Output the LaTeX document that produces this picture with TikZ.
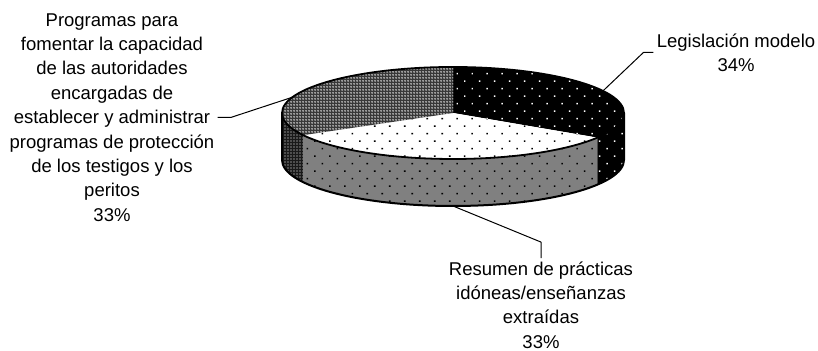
\documentclass[tikz,border=0pt]{standalone}
\usepackage{fontspec}
\setmainfont{Liberation Sans}
\usetikzlibrary{patterns.meta}
\begin{document}
\begin{tikzpicture}[x=.5pt,y=.5pt,line join=round,
	lbl/.style={align=center,inner sep=1.5pt,font=\fontsize{9.25}{12.2}\selectfont},
	legisfill/.style={fill=black,postaction={pattern={Dots[distance=5.3pt,radius=.5pt,angle=45]},pattern color=white}},
	resutop/.style={fill=white,postaction={pattern={Dots[distance=5.3pt,radius=.55pt,angle=45]},pattern color=black}},
	resuside/.style={fill=black!50,postaction={pattern={Dots[distance=5.3pt,radius=.55pt,angle=45]},pattern color=black}},
	progtop/.style={fill=black!78,postaction={pattern={Dots[distance=1.5pt,radius=.38pt]},pattern color=white}},
	progside/.style={fill=black!90,postaction={pattern={Dots[distance=1.5pt,radius=.3pt]},pattern color=white}}]
\useasboundingbox (0,0) rectangle (818,351);
\begin{scope}[shift={(453,238)}]
	% side walls
	\path[progside] (180:171 and 46) arc[start angle=180,end angle=208.8,x radius=171,y radius=46]
	-- ++(0,-47) arc[start angle=208.8,end angle=180,x radius=171,y radius=46] -- cycle;
	\path[resuside] (208.8:171 and 46) arc[start angle=208.8,end angle=327.6,x radius=171,y radius=46]
	-- ++(0,-47) arc[start angle=327.6,end angle=208.8,x radius=171,y radius=46] -- cycle;
	\path[legisfill] (327.6:171 and 46) arc[start angle=327.6,end angle=360,x radius=171,y radius=46]
	-- ++(0,-47) arc[start angle=360,end angle=327.6,x radius=171,y radius=46] -- cycle;
	\draw[line width=1pt] (180:171 and 46) -- ++(0,-47) arc[start angle=180,end angle=360,x radius=171,y radius=46] -- ++(0,47);
	% top
	\path[legisfill] (0,0) -- (90:171 and 46) arc[start angle=90,end angle=-32.4,x radius=171,y radius=46] -- cycle;
	\path[resutop] (0,0) -- (-32.4:171 and 46) arc[start angle=-32.4,end angle=-151.2,x radius=171,y radius=46] -- cycle;
	\path[progtop] (0,0) -- (90:171 and 46) arc[start angle=90,end angle=208.8,x radius=171,y radius=46] -- cycle;
	\draw[line width=.9pt] (0,0) ellipse[x radius=171,y radius=46];
	\coordinate (plegis) at (28.7:171 and 46);
	\coordinate (pprog) at (160:171 and 46);
	\coordinate (presu) at (0,-93);
\end{scope}
\node[lbl] (legis) at (736,298.5) {Legislación modelo\\34\%};
\node[lbl] (prog) at (112,233.5) {Programas para\\fomentar la capacidad\\de las autoridades\\encargadas de\\establecer y administrar\\programas de protección\\de los testigos y los\\peritos\\33\%};
\node[lbl] (resu) at (541,46) {Resumen de prácticas\\idóneas/enseñanzas\\extraídas\\33\%};
\draw[line width=.5pt] (legis.west) -- ++(-10,0) -- (plegis);
\draw[line width=.5pt] (prog.east) -- ++(13,0) -- (pprog);
\draw[line width=.5pt] (presu) -- ([yshift=8pt]resu.north) -- (resu.north);
\end{tikzpicture}
\end{document}
